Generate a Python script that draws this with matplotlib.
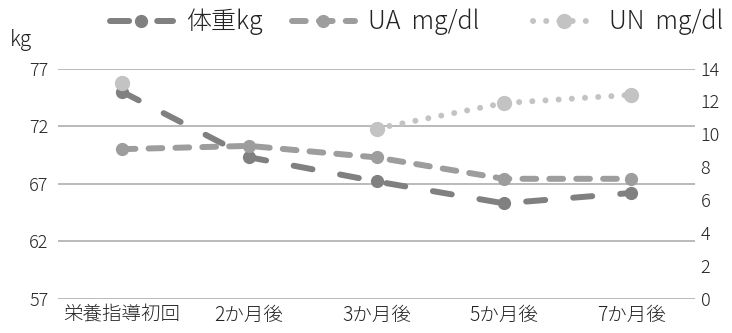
import numpy as np
import matplotlib
matplotlib.use("Agg")
import matplotlib.pyplot as plt

plt.rcParams["font.family"] = ["Noto Sans CJK JP", "DejaVu Sans"]
plt.rcParams["font.weight"] = "light"

# data
categories = ["栄養指導初回", "2か月後", "3か月後", "5か月後", "7か月後"]
weight_kg = [75.0, 69.3, 67.2, 65.3, 66.2]
ua_mgdl = [9.1, 9.3, 8.6, 7.3, 7.3]
un_mgdl = [13.1, np.nan, 10.35, 11.9, 12.4]

left_ticks = [57, 62, 67, 72, 77]
right_ticks = [0, 2, 4, 6, 8, 10, 12, 14]

C_WEIGHT = "#808080"
C_UA = "#9d9d9d"
C_UN = "#c3c3c3"
C_GRID = "#b4b4b4"
C_TEXT = "#222222"

W, H = 732, 333
fig = plt.figure(figsize=(W / 100, H / 100), dpi=100)
ax = fig.add_axes([58 / W, 1 - 299 / H, (695 - 58) / W, (299 - 68.5) / H])
ax2 = ax.twinx()

x = np.arange(len(categories))
LW = 4.3

l1, = ax.plot(x, weight_kg, color=C_WEIGHT, lw=LW, marker="o", ms=8.5,
              dash_capstyle="round", label="体重kg", zorder=3)
l1.set_dashes((3.2, 4.7))
l2, = ax2.plot(x, ua_mgdl, color=C_UA, lw=LW, marker="o", ms=8.5,
               dash_capstyle="round", label="UA  mg/dl", zorder=3)
l2.set_dashes((2.3, 2.2))
l3, = ax2.plot(x, un_mgdl, color=C_UN, lw=LW, marker="o", ms=10,
               dash_capstyle="round", label="UN  mg/dl", zorder=4)
l3.set_dashes((0.01, 2.2))

ax.set_xlim(-0.5, len(categories) - 0.5)
ax.set_ylim(57, 77)
ax2.set_ylim(0, 14)
ax.set_yticks(left_ticks)
ax2.set_yticks(right_ticks)
ax.set_xticks(x)
ax.set_xticklabels(categories)

ax.grid(axis="y", color=C_GRID, lw=1.3)
ax.set_axisbelow(True)
for a in (ax, ax2):
    for s in a.spines.values():
        s.set_visible(False)
ax.tick_params(axis="y", length=0, pad=7, labelsize=13, labelcolor=C_TEXT)
ax.tick_params(axis="x", length=0, pad=4, labelsize=14, labelcolor=C_TEXT)
ax2.tick_params(axis="y", length=0, pad=4, labelsize=13, labelcolor=C_TEXT)

fig.text(10 / W, 1 - 40 / H, "kg", fontsize=15, va="center", ha="left", color=C_TEXT)

# one legend per series so each entry sits where the reference has it
for handle, x0 in [(l1, 110), (l2, 292), (l3, 533)]:
    fig.legend(handles=[handle], loc="center left",
               bbox_to_anchor=(x0 / W, 1 - 22 / H), frameon=False,
               fontsize=18, handlelength=2.5, handletextpad=0.55,
               numpoints=1, labelcolor=C_TEXT,
               borderaxespad=0, borderpad=0)

fig.savefig("out.png", dpi=100)
